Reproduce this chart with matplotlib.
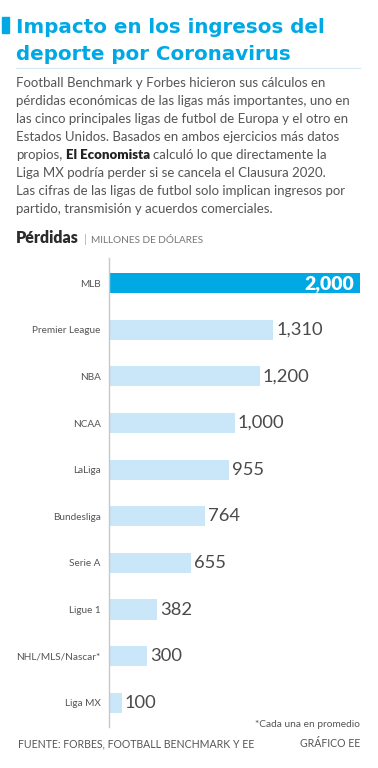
import matplotlib
matplotlib.use("Agg")
import matplotlib.pyplot as plt
from matplotlib.patches import Rectangle
from matplotlib.lines import Line2D

# ── data ────────────────────────────────────────────────────────────────
leagues = ["MLB", "Premier League", "NBA", "NCAA", "LaLiga", "Bundesliga",
           "Serie A", "Ligue 1", "NHL/MLS/Nascar*", "Liga MX"]
losses = [2000, 1310, 1200, 1000, 955, 764, 655, 382, 300, 100]

title_lines = ["Impacto en los ingresos del", "deporte por Coronavirus"]
body_lines = [
    "Football Benchmark y Forbes hicieron sus cálculos en",
    "pérdidas económicas de las ligas más importantes, uno en",
    "las cinco principales ligas de futbol de Europa y el otro en",
    "Estados Unidos. Basados en ambos ejercicios más datos",
    None,  # mixed-weight line drawn separately
    "Liga MX podría perder si se cancela el Clausura 2020.",
    "Las cifras de las ligas de futbol solo implican ingresos por",
    "partido, transmisión y acuerdos comerciales.",
]

W, H = 378, 768
BLUE = "#00a9e4"
LIGHT = "#c9e7f8"
GREY = "#555555"
FONT = ["Lato", "DejaVu Sans"]

plt.rcParams["font.family"] = FONT

fig = plt.figure(figsize=(W / 100, H / 100), dpi=100, facecolor="white")
renderer = fig.canvas.get_renderer()


def fx(px):
    return px / W


def fy(py):
    return 1 - py / H


def width_px(t):
    return t.get_window_extent(renderer).width


# title
fig.add_artist(Rectangle((fx(2), fy(33)), 7 / W, 16 / H, color=BLUE,
                         transform=fig.transFigure))
for i, line in enumerate(title_lines):
    fig.text(fx(16), fy(33 + 27 * i), line, fontsize=14.3, fontweight="bold",
             family="DejaVu Sans", color=BLUE, va="baseline")
fig.add_artist(Line2D([fx(16), fx(360)], [fy(68), fy(68)], color="#d6e8f0",
                      lw=0.8, transform=fig.transFigure))

# body text
for i, line in enumerate(body_lines):
    y = fy(87 + 18 * i)
    if line is not None:
        fig.text(fx(16), y, line, fontsize=9.5, color=GREY, va="baseline")
    else:
        x = 16
        for txt, wt, col in [("propios,", "normal", GREY),
                             ("El Economista", "heavy", "#222222"),
                             ("calculó lo que directamente la", "normal", GREY)]:
            t = fig.text(fx(x), y, txt, fontsize=9.5, fontweight=wt, color=col,
                         va="baseline")
            x += width_px(t) + 3.2

# subtitle
t = fig.text(fx(16), fy(243), "Pérdidas", fontsize=11.5, fontweight="heavy",
             color="#2b2b2b", va="baseline")
x = 16 + width_px(t) + 5
fig.text(fx(x), fy(243), "|", fontsize=8, color="#aaaaaa", va="baseline")
fig.text(fx(x + 7), fy(243), "MILLONES DE DÓLARES", fontsize=7.2,
         color="#777777", va="baseline")

# ── bar chart ───────────────────────────────────────────────────────────
ax = fig.add_axes([fx(109), fy(727), (360 - 109) / W, (727 - 258) / H])
pos = list(range(len(leagues)))
colors = [BLUE] + [LIGHT] * (len(leagues) - 1)
ax.barh(pos, losses, height=0.43, color=colors, left=0)
ax.set_xlim(0, 2000)
ax.set_ylim(9.52, -0.54)
for s in ["top", "right", "bottom"]:
    ax.spines[s].set_visible(False)
ax.spines["left"].set_color("#c8c8c8")
ax.spines["left"].set_linewidth(1)
ax.set_xticks([])
ax.set_yticks(pos)
ax.set_yticklabels(leagues, fontsize=7.2, color="#555555")
ax.tick_params(axis="y", length=0, pad=6)

for i, v in enumerate(losses):
    label = f"{v:,}"
    if i == 0:
        ax.text(v - 45, i, label, ha="right", va="center", fontsize=14,
                fontweight="heavy", color="white")
    else:
        ax.text(v + 25, i, label, ha="left", va="center", fontsize=13.2,
                color="#4a4a4a")

# footnotes
fig.text(fx(360), fy(727), "*Cada una en promedio", ha="right", fontsize=7.3,
         color="#555555", va="baseline")
fig.text(fx(18), fy(747), "FUENTE: FORBES, FOOTBALL BENCHMARK Y EE", fontsize=7.6,
         color="#555555", va="baseline")
fig.text(fx(360), fy(747), "GRÁFICO EE", ha="right", fontsize=7.6,
         color="#555555", va="baseline")

fig.savefig("out.png", dpi=100, facecolor="white")
